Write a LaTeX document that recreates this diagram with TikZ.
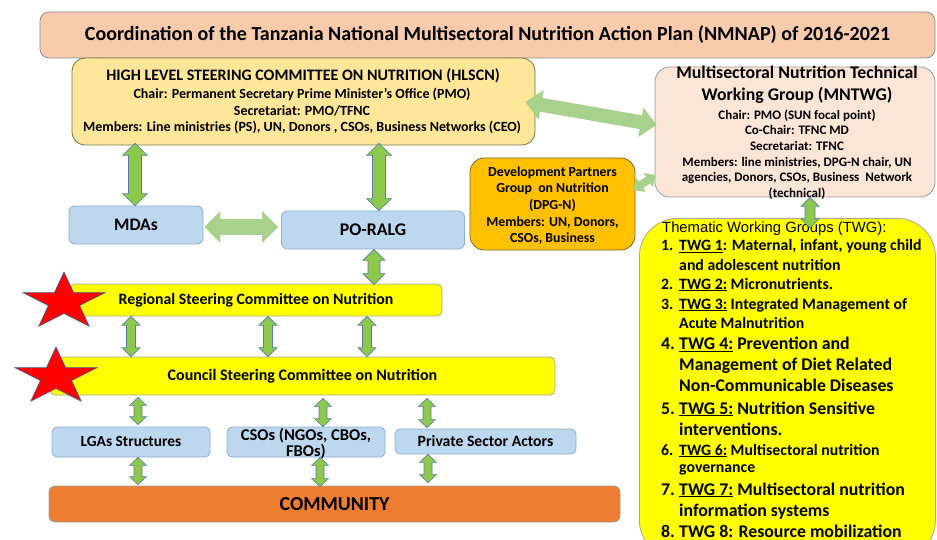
\documentclass[tikz,border=0pt]{standalone}
\usepackage{fontspec}
\setmainfont{Carlito}
\newfontfamily\arialf{Liberation Sans}
\usetikzlibrary{calc}
\definecolor{titlefill}{HTML}{F8CBAD}
\definecolor{titleedge}{HTML}{8C8C8C}
\definecolor{hlfill}{HTML}{FFE699}
\definecolor{hledge}{HTML}{6F7A45}
\definecolor{mntfill}{HTML}{FBE5D6}
\definecolor{mntedge}{HTML}{9A9A9A}
\definecolor{dpgfill}{HTML}{FFC000}
\definecolor{dpgedge}{HTML}{7F6A3A}
\definecolor{bluefill}{HTML}{BDD7EE}
\definecolor{blueedge}{HTML}{8FAFD0}
\definecolor{yelfill}{HTML}{FFFF00}
\definecolor{yeledge}{HTML}{A6A6A6}
\definecolor{comfill}{HTML}{ED7D31}
\definecolor{comedge}{HTML}{A0A0A0}
\definecolor{widegreen}{HTML}{A9D18E}
\definecolor{arrgreen}{HTML}{8CC84B}
\definecolor{arredge}{HTML}{5A7DA8}
\definecolor{starred}{HTML}{FF0000}
\definecolor{staredge}{HTML}{3F5F8F}
\newcommand{\blockarr}[6]{%
  \coordinate (ba1) at ($(#2)!#6!(#3)$);
  \coordinate (ba2) at ($(#3)!#6!(#2)$);
  \draw[#1] (#2) -- ($(ba1)!#5!90:(#3)$) -- ($(ba1)!#4!90:(#3)$)
    -- ($(ba2)!#4!-90:(#2)$) -- ($(ba2)!#5!-90:(#2)$) -- (#3)
    -- ($(ba2)!#5!90:(#2)$) -- ($(ba2)!#4!90:(#2)$)
    -- ($(ba1)!#4!-90:(#3)$) -- ($(ba1)!#5!-90:(#3)$) -- cycle;}
\newcommand{\redstar}[3]{%
  \begin{scope}[shift={(#1)}, xscale=#2, yscale=#3]
    \draw[starstyle] (-90:1) -- (-54:.382) -- (-18:1) -- (18:.382) -- (54:1)
      -- (90:.382) -- (126:1) -- (162:.382) -- (198:1) -- (234:.382) -- cycle;
  \end{scope}}
\begin{document}
\begin{tikzpicture}[x=1pt,y=-1pt,
  box/.style={draw, line width=0.8pt, inner sep=0pt, align=center},
  bluebox/.style={box, fill=bluefill, draw=blueedge, rounded corners=6pt},
  yelbox/.style={box, fill=yelfill, draw=yeledge, rounded corners=5pt},
  wide/.style={fill=widegreen, draw=none},
  varr/.style={fill=arrgreen, draw=arredge, line width=0.6pt, line join=miter},
  starstyle/.style={fill=starred, draw=staredge, line width=0.6pt, line join=miter},
  txt/.style={inner sep=0pt, align=center, font=\bfseries},
  twg/.style={inner sep=0pt, anchor=base west, font=\bfseries},
  num/.style={inner sep=0pt, anchor=base west, font=\bfseries}]
\useasboundingbox (0,0) rectangle (937,540);
\clip (0,0) rectangle (937,540);

% title
\node[box, fill=titlefill, draw=titleedge, rounded corners=9pt, minimum width=895pt, minimum height=46pt] (title) at (487.5,35)
  {\fontsize{20}{23}\selectfont\bfseries Coordination of the Tanzania National Multisectoral Nutrition Action Plan (NMNAP) of 2016-2021};

% HLSCN
\node[box, fill=hlfill, draw=hledge, rounded corners=13pt, minimum width=463pt, minimum height=87pt] (hlscn) at (303.5,101.5) {};
\node[txt, font=\fontsize{16}{18}\selectfont\bfseries] (hlscnH) at (303,76) {HIGH LEVEL STEERING COMMITTEE ON NUTRITION (HLSCN)};
\node[txt, font=\fontsize{14}{16.7}\selectfont\bfseries] (hlscnB) at (302,111) {Chair: Permanent Secretary Prime Minister’s Office (PMO)\\Secretariat: PMO/TFNC\\Members: Line ministries (PS), UN, Donors , CSOs, Business Networks (CEO)};

% MNTWG
\node[box, fill=mntfill, draw=mntedge, rounded corners=15pt, minimum width=280pt, minimum height=130pt] (mntwg) at (795,132) {};
\node[txt, font=\fontsize{17.8}{22}\selectfont\bfseries] (mntwgH) at (797,85) {Multisectoral Nutrition Technical\\Working Group (MNTWG)};
\node[txt, font=\fontsize{13}{15.6}\selectfont\bfseries] (mntwgB) at (797,154.5) {Chair: PMO (SUN focal point)\\Co-Chair: TFNC MD\\Secretariat: TFNC\\Members: line ministries, DPG-N chair, UN\\agencies, Donors, CSOs, Business\ \ Network\\(technical)};

% DPG-N
\node[box, fill=dpgfill, draw=dpgedge, rounded corners=14pt, minimum width=165pt, minimum height=92pt] (dpg) at (552.5,204) {};
\node[txt, font=\fontsize{13.8}{16.7}\selectfont\bfseries] (dpgT) at (552.5,205.5) {Development Partners\\Group\ \ on Nutrition\\(DPG-N)\\Members: UN, Donors,\\CSOs, Business};

% MDAs, PO-RALG
\node[bluebox, minimum width=134pt, minimum height=38pt] (mdas) at (136,225) {\fontsize{17.6}{19}\selectfont\bfseries MDAs};
\node[bluebox, minimum width=183pt, minimum height=38pt] (poralg) at (373,230) {\fontsize{17.8}{19}\selectfont\bfseries PO-RALG};

% Regional, Council
\node[yelbox, minimum width=372pt, minimum height=32pt] (regional) at (256,300) {\fontsize{15.8}{17}\selectfont\bfseries Regional Steering Committee on Nutrition};
\node[yelbox, minimum width=505pt, minimum height=38pt] (council) at (302.5,376) {\fontsize{16}{17}\selectfont\bfseries Council Steering Committee on Nutrition};

% bottom boxes
\node[bluebox, rounded corners=5pt, minimum width=158pt, minimum height=30pt] (lgas) at (131,442) {\fontsize{15.4}{17}\selectfont\bfseries LGAs Structures};
\node[bluebox, rounded corners=5pt, minimum width=158pt, minimum height=30pt] (csos) at (306,442) {};
\node[txt, font=\fontsize{16.5}{16.5}\selectfont\bfseries] (csosT) at (306,443.5) {CSOs (NGOs, CBOs,\\FBOs)};
\node[bluebox, rounded corners=5pt, minimum width=181pt, minimum height=25pt] (private) at (485.5,441.5) {\fontsize{15.7}{17}\selectfont\bfseries Private Sector Actors};
\node[box, fill=comfill, draw=comedge, rounded corners=6pt, minimum width=571pt, minimum height=36pt] (community) at (334.5,504) {\fontsize{19.8}{21}\selectfont\bfseries COMMUNITY};

% TWG box
\node[box, fill=yelfill, draw=yeledge, rounded corners=38pt, minimum width=296pt, minimum height=340pt, anchor=north west] (twg) at (639,218) {};
\node[inner sep=0pt, anchor=base west, font=\arialf\fontsize{14.8}{16}\selectfont] (t0) at (662,232.7) {Thematic Working Groups (TWG):};
\node[num, font=\fontsize{15.8}{16}\selectfont\bfseries] (n1) at (661,250.7) {1.};
\node[twg, font=\fontsize{15.8}{16}\selectfont\bfseries] (t1) at (679,250.7) {\underline{TWG 1}: Maternal, infant, young child};
\node[twg, font=\fontsize{15.8}{16}\selectfont\bfseries] (t1b) at (679,270) {and adolescent nutrition};
\node[num, font=\fontsize{15.8}{16}\selectfont\bfseries] (n2) at (661,289) {2.};
\node[twg, font=\fontsize{15.8}{16}\selectfont\bfseries] (t2) at (679,289) {\underline{TWG 2:} Micronutrients.};
\node[num, font=\fontsize{15.8}{16}\selectfont\bfseries] (n3) at (661,309) {3.};
\node[twg, font=\fontsize{15.8}{16}\selectfont\bfseries] (t3) at (679,309) {\underline{TWG 3:} Integrated Management of};
\node[twg, font=\fontsize{15.8}{16}\selectfont\bfseries] (t3b) at (679,328) {Acute Malnutrition};
\node[num, font=\fontsize{17.8}{18}\selectfont\bfseries] (n4) at (661,349.3) {4.};
\node[twg, font=\fontsize{17.8}{18}\selectfont\bfseries] (t4) at (679,349.3) {\underline{TWG 4:} Prevention and};
\node[twg, font=\fontsize{17.8}{18}\selectfont\bfseries] (t4b) at (679,370) {Management of Diet Related};
\node[twg, font=\fontsize{17.8}{18}\selectfont\bfseries] (t4c) at (679,391.7) {Non-Communicable Diseases};
\node[num, font=\fontsize{17.8}{18}\selectfont\bfseries] (n5) at (661,414) {5.};
\node[twg, font=\fontsize{17.8}{18}\selectfont\bfseries] (t5) at (679,414) {\underline{TWG 5:} Nutrition Sensitive};
\node[twg, font=\fontsize{17.8}{18}\selectfont\bfseries] (t5b) at (679,435) {interventions.};
\node[num, font=\fontsize{15.8}{16}\selectfont\bfseries] (n6) at (661,455) {6.};
\node[twg, font=\fontsize{15.8}{16}\selectfont\bfseries] (t6) at (679,455) {\underline{TWG 6:} Multisectoral nutrition};
\node[twg, font=\fontsize{15.8}{16}\selectfont\bfseries] (t6b) at (679,472.7) {governance};
\node[num, font=\fontsize{17.8}{18}\selectfont\bfseries] (n7) at (661,495) {7.};
\node[twg, font=\fontsize{17.8}{18}\selectfont\bfseries] (t7) at (679,495) {\underline{TWG 7:} Multisectoral nutrition};
\node[twg, font=\fontsize{17.8}{18}\selectfont\bfseries] (t7b) at (679,516.7) {information systems};
\node[num, font=\fontsize{17.8}{18}\selectfont\bfseries] (n8) at (661,537) {8.};
\node[twg, font=\fontsize{17.8}{18}\selectfont\bfseries] (t8) at (679,537) {TWG 8: Resource mobilization};

% x positions for vertical connectors
\coordinate (xa) at (379,0);
\coordinate (xb) at (374,0);
\coordinate (xr1) at (131,0);
\coordinate (xr2) at (268,0);
\coordinate (xr3) at (367,0);
\coordinate (xc1) at (138,0);
\coordinate (xc2) at (323,0);
\coordinate (xc3) at (427,0);
\coordinate (xd1) at (138,0);
\coordinate (xd2) at (320,0);
\coordinate (xd3) at (428,0);
\coordinate (xm) at (810,0);

% wide light-green connectors
\coordinate (w1a) at ($(hlscn.east)+(-10,0.5)$);
\coordinate (w1b) at ($(mntwg.west)+(2,-7)$);
\blockarr{wide}{w1a}{w1b}{7pt}{15pt}{16pt}
\coordinate (w2a) at ($(mdas.east)+(1,2)$);
\coordinate (w2b) at ($(poralg.west)+(-3,-3)$);
\blockarr{wide}{w2a}{w2b}{8pt}{16pt}{16pt}
\coordinate (w3a) at ($(dpg.east)+(-2,-14)$);
\coordinate (w3b) at ($(mntwg.west)+(1,43)$);
\blockarr{wide}{w3a}{w3b}{4pt}{8.5pt}{9pt}

% vertical green connectors
\coordinate (v1a) at ($(hlscn.south -| mdas.north)+(-1,-2)$);
\coordinate (v1b) at ($(mdas.north)+(-1,0)$);
\blockarr{varr}{v1a}{v1b}{6.5pt}{12.5pt}{12pt}
\coordinate (v2a) at ($(hlscn.south -| xa)+(0,-2)$);
\coordinate (v2b) at (poralg.north -| xa);
\blockarr{varr}{v2a}{v2b}{6.5pt}{12.5pt}{12pt}
\coordinate (v3a) at (poralg.south -| xb);
\coordinate (v3b) at ($(regional.north -| xb)+(0,1)$);
\blockarr{varr}{v3a}{v3b}{6pt}{11pt}{11pt}
\foreach \xx in {xr1,xr2,xr3}{
  \coordinate (r1) at (regional.south -| \xx);
  \coordinate (r2) at (council.north -| \xx);
  \blockarr{varr}{r1}{r2}{4.5pt}{9pt}{9pt}
}
\coordinate (c1a) at ($(council.south -| xc1)+(0,2)$);
\coordinate (c1b) at ($(lgas.north -| xc1)+(0,-2)$);
\blockarr{varr}{c1a}{c1b}{4pt}{8.5pt}{8pt}
\coordinate (c2a) at ($(council.south -| xc2)+(0,3)$);
\coordinate (c2b) at (csos.north -| xc2);
\blockarr{varr}{c2a}{c2b}{4pt}{8.5pt}{8pt}
\coordinate (c3a) at ($(council.south -| xc3)+(0,3)$);
\coordinate (c3b) at ($(private.north -| xc3)+(0,-1)$);
\blockarr{varr}{c3a}{c3b}{4pt}{8.5pt}{8pt}
\coordinate (d1a) at (lgas.south -| xd1);
\coordinate (d1b) at ($(community.north -| xd1)+(0,-1)$);
\blockarr{varr}{d1a}{d1b}{4pt}{8.5pt}{8pt}
\coordinate (d2a) at (csos.south -| xd2);
\coordinate (d2b) at ($(community.north -| xd2)+(0,1)$);
\blockarr{varr}{d2a}{d2b}{4pt}{8.5pt}{8pt}
\coordinate (d3a) at (private.south -| xd3);
\coordinate (d3b) at ($(community.north -| xd3)+(0,-3)$);
\blockarr{varr}{d3a}{d3b}{4pt}{8.5pt}{8pt}
\coordinate (m1) at (mntwg.south -| xm);
\coordinate (m2) at ($(twg.north -| xm)+(0,10)$);
\blockarr{varr}{m1}{m2}{5pt}{9pt}{9pt}

% stars
\redstar{64,302}{43}{30}
\redstar{56,377}{43}{30}
\end{tikzpicture}
\end{document}
